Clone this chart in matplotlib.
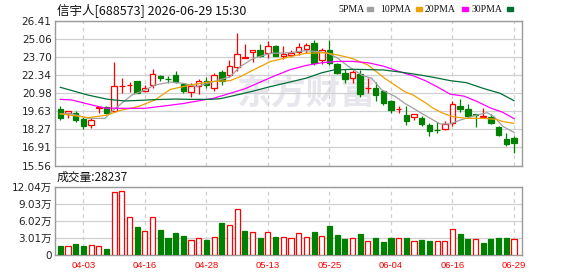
import numpy as np
import matplotlib.pyplot as plt
from matplotlib.patches import Rectangle

plt.rcParams['font.family'] = ['DejaVu Sans', 'Noto Sans CJK SC']

# 日K线 (开, 收, 高, 低)
opens = [19.76, 19.49, 19.46, 19.01, 18.57, 19.84, 19.91, 19.66, 21.49, 21.55,
         21.86, 21.11, 21.61, 22.28, 22.03, 22.33, 21.63, 21.03, 21.51, 21.91,
         21.33, 22.58, 22.33, 22.91, 23.62, 24.03, 24.20, 23.98, 24.53, 23.73,
         23.80, 24.08, 24.28, 24.70, 23.45, 24.20, 23.15, 22.51, 22.08, 22.41,
         21.33, 21.33, 21.16, 20.39, 19.76, 19.34, 19.16, 19.11, 18.57, 18.24,
         18.27, 18.77, 19.99, 19.76, 19.39, 19.21, 19.16, 18.42, 17.54, 17.64]
closes = [19.14, 19.64, 18.96, 18.52, 18.99, 19.91, 19.46, 21.51, 21.54, 21.60,
          21.01, 21.33, 22.38, 22.08, 22.00, 21.78, 21.16, 21.51, 21.91, 21.58,
          22.33, 21.88, 23.00, 23.90, 23.67, 24.18, 23.78, 24.48, 23.78, 23.93,
          24.00, 24.40, 24.58, 23.20, 24.20, 23.20, 22.51, 22.03, 22.53, 20.91,
          21.38, 20.83, 20.26, 19.71, 19.81, 18.91, 19.39, 18.67, 18.12, 18.21,
          18.69, 20.14, 19.79, 19.26, 19.37, 19.24, 18.72, 17.84, 17.19, 17.27]
highs = [20.01, 19.66, 19.64, 19.19, 19.11, 19.93, 20.01, 23.30, 22.08, 21.78,
         21.91, 21.56, 22.76, 22.33, 22.26, 22.66, 21.76, 21.71, 22.03, 22.16,
         22.46, 22.71, 23.45, 25.47, 24.68, 24.18, 24.65, 24.88, 24.55, 24.53,
         24.23, 24.75, 24.70, 24.95, 24.33, 24.95, 23.20, 22.76, 22.71, 22.71,
         22.08, 21.83, 21.21, 20.46, 20.01, 20.01, 19.39, 19.24, 18.72, 18.82,
         18.87, 20.39, 20.56, 20.16, 19.39, 19.86, 19.39, 18.52, 17.97, 17.79]
lows = [18.96, 19.14, 18.84, 18.27, 18.39, 19.46, 19.41, 19.59, 20.96, 21.08,
        20.96, 21.06, 21.33, 21.88, 21.76, 21.71, 21.01, 20.71, 20.91, 21.38,
        21.14, 21.58, 22.16, 22.66, 23.60, 23.33, 23.65, 23.58, 23.75, 23.53,
        23.70, 23.83, 23.95, 23.08, 23.15, 23.08, 22.38, 21.76, 21.76, 20.71,
        21.01, 20.39, 20.06, 19.51, 19.46, 18.59, 18.96, 18.52, 17.77, 18.02,
        18.22, 18.52, 19.59, 19.14, 18.41, 19.09, 18.64, 17.77, 17.02, 16.52]
# 成交量 (万)
vols = [1.59, 1.59, 1.94, 1.59, 1.70, 1.59, 1.06, 11.05, 11.28, 6.64,
        4.94, 4.17, 6.64, 4.40, 3.00, 3.88, 3.35, 2.59, 3.00, 2.64,
        3.17, 5.64, 5.23, 8.05, 4.23, 4.00, 3.00, 4.00, 3.17, 3.17,
        3.00, 3.82, 3.17, 4.06, 3.35, 5.11, 3.53, 2.82, 3.00, 3.70,
        2.47, 3.00, 2.29, 3.00, 3.00, 3.00, 2.47, 2.64, 2.47, 2.47,
        2.47, 4.58, 3.70, 2.82, 2.82, 2.12, 2.82, 3.00, 3.00, 2.8237]

# 均线
ma5_x = [0, 1, 2, 3.6, 5.8, 6.9, 9.3, 11, 12.3, 14.3, 16, 17.7, 19.9, 22.1, 23.4, 25.1,
         27.3, 29.9, 31.8, 33.6, 34.9, 36.1, 37.5, 39.2, 40.5, 41.8, 43.6, 44.8, 45.9,
         47.2, 48.5, 49.4, 50.7, 52, 54.2, 55.5, 56.4, 57.6, 59]
ma5_y = [19.41, 19.46, 19.35, 19.09, 19.09, 19.71, 20.83, 21.21, 21.58, 21.80, 21.71, 21.46,
         21.83, 22.21, 22.96, 23.58, 23.95, 24.00, 24.15, 24.08, 23.95, 23.58, 22.96, 22.33,
         22.08, 21.21, 20.71, 20.21, 19.84, 19.39, 18.96, 18.67, 18.67, 18.96, 19.34, 19.51,
         19.21, 18.47, 18.04]
ma10_x = [0, 2.8, 3.6, 6.2, 6.9, 8, 10.1, 12.3, 14.3, 16.9, 19.5, 22.1, 23.4, 25.1, 27.3,
          29.9, 31.8, 34.4, 36.1, 37.9, 40, 42.2, 44.8, 45.9, 47.6, 48.5, 49.8, 51.1, 52.8,
          55, 56.7, 57.6, 59]
ma10_y = [19.43, 19.21, 19.14, 19.34, 19.51, 19.71, 19.96, 20.46, 21.25, 21.58, 21.83, 21.91,
          22.21, 22.71, 23.33, 23.70, 23.95, 24.00, 23.83, 23.58, 23.08, 22.08, 21.08, 20.83,
          20.21, 19.84, 19.46, 19.21, 19.09, 19.09, 19.01, 18.84, 18.72]
ma20_x = [0, 1.5, 3.6, 5.8, 8, 11, 12, 14, 16, 18, 20, 22, 24, 26, 28, 30, 32, 34, 36, 38,
          40, 42, 44, 46, 47.5, 49, 50.7, 52.5, 54, 56, 57.5, 59]
ma20_y = [20.51, 20.46, 20.16, 19.86, 19.84, 19.84, 19.91, 20.05, 20.20, 20.40, 20.60, 20.95,
          21.30, 21.80, 22.30, 22.75, 23.05, 23.25, 23.35, 23.35, 23.25, 23.00, 22.60, 22.25,
          21.90, 21.45, 20.90, 20.75, 20.40, 19.85, 19.55, 19.07]
ma30_x = [0, 3.6, 6.2, 8.4, 10.6, 12.3, 14.9, 17, 19.5, 20.8, 22.9, 25.1, 27.3, 29.9, 32,
          34, 35.5, 38, 42, 44.5, 46.8, 48.5, 50.7, 52.8, 55, 57.2, 59]
ma30_y = [21.41, 20.83, 20.51, 20.39, 20.44, 20.49, 20.53, 20.51, 20.51, 20.56, 20.83, 21.13,
          21.46, 21.81, 22.10, 22.50, 22.70, 22.76, 22.71, 22.53, 22.33, 22.16, 21.91, 21.76,
          21.33, 20.96, 20.41]

price_ticks = [15.56, 16.91, 18.27, 19.63, 20.98, 22.34, 23.70, 25.06, 26.41]
vol_ticks = [0, 3.01, 6.02, 9.03, 12.04]
date_idx = [3, 11, 19, 27, 35, 43, 51, 59]
date_labels = ['04-03', '04-16', '04-28', '05-13', '05-25', '06-04', '06-16', '06-29']

RED = '#ff0000'
GREEN = '#008000'
FRAME = '#9a9a9a'

W, H = 578, 276
fig = plt.figure(figsize=(W / 100, H / 100), dpi=100)
ax = fig.add_axes([55 / W, 1 - 165.5 / H, 467 / W, 145 / H])
axv = fig.add_axes([55 / W, 1 - 255 / H, 467 / W, 68.3 / H])

x = np.arange(len(closes))
o = np.array(opens)
c = np.array(closes)
up = c >= o
col = np.where(up, RED, GREEN)

# 影线
ax.vlines(x, lows, highs, colors=col, linewidth=0.9, zorder=3)
# 实体
body = np.maximum(np.abs(c - o), 0.015)
ax.bar(x, body, bottom=np.minimum(o, c), width=0.72,
       facecolor=np.where(up, 'white', GREEN), edgecolor=col, linewidth=0.9, zorder=4)

ax.plot(ma5_x, ma5_y, color='#a0a0a0', linewidth=0.9, zorder=5)
ax.plot(ma10_x, ma10_y, color='#f0a000', linewidth=0.9, zorder=5)
ax.plot(ma20_x, ma20_y, color='#ff00ff', linewidth=0.9, zorder=5)
ax.plot(ma30_x, ma30_y, color='#006f35', linewidth=0.9, zorder=5)

ax.text(306 / W, 1 - 93 / H, '东方财富', transform=fig.transFigure, ha='center', va='center',
        fontsize=25, fontweight='bold', color='#e6e6ec', family=['Noto Sans CJK SC'], zorder=0)

ax.set_xlim(-0.69, 60.04)
ax.set_ylim(price_ticks[0], price_ticks[-1])
ax.set_yticks(price_ticks)
ax.set_yticklabels(['%.2f' % t for t in price_ticks], fontsize=7.5, color='#222222')
ax.set_xticks(date_idx)
ax.set_xticklabels([])

# 成交量
v = np.array(vols)
vup = np.concatenate([[c[0] >= o[0]], c[1:] >= c[:-1]])
axv.bar(x, v, width=0.66, facecolor=np.where(vup, 'white', GREEN),
        edgecolor=np.where(vup, RED, GREEN), linewidth=0.9, zorder=3)
axv.set_xlim(-0.69, 60.04)
axv.set_ylim(vol_ticks[0], vol_ticks[-1])
axv.set_yticks(vol_ticks)
axv.set_yticklabels(['0'] + ['%.2f万' % t for t in vol_ticks[1:]], fontsize=7.5, color='#222222')
axv.set_xticks(date_idx)
axv.set_xticklabels(date_labels, fontsize=6.8, color=RED, family=['Liberation Sans'])

for a in (ax, axv):
    a.tick_params(length=0, pad=2.5)
    a.tick_params(axis='x', pad=4)
    for s in a.spines.values():
        s.set_color(FRAME)
        s.set_linewidth(1.0)
    a.grid(axis='y', color='#d0d0d0', linewidth=0.9, linestyle='-', zorder=1)
    a.grid(axis='x', color='#cfcfcf', linewidth=0.9, linestyle=(0, (3, 3)), zorder=1)
    a.set_axisbelow(True)

fig.text(57 / W, 1 - 10 / H, '信宇人[688573] 2026-06-29 15:30', fontsize=9,
         family=['Noto Sans CJK SC'], va='center', ha='left', color='#111111')
fig.text(57 / W, 1 - 177 / H, '成交量:%d' % round(vols[-1] * 10000), fontsize=8.5,
         family=['Noto Sans CJK SC'], va='center', ha='left', color='#111111')

# 图例
legend_items = [('5PMA', '#a0a0a0', 338, 367), ('10PMA', '#f0a000', 380, 416),
                ('20PMA', '#ff00ff', 425, 462), ('30PMA', '#006f35', 472, 507)]
for name, clr, tx, sx in legend_items:
    fig.text(tx / W, 1 - 9 / H, name, fontsize=7, family=['Liberation Serif'],
             va='center', ha='left', color='#111111')
    fig.add_artist(Rectangle((sx / W, 1 - 10.5 / H), 5.5 / W, 3.5 / H,
                             transform=fig.transFigure, color=clr))

fig.savefig('out.png', dpi=100)
